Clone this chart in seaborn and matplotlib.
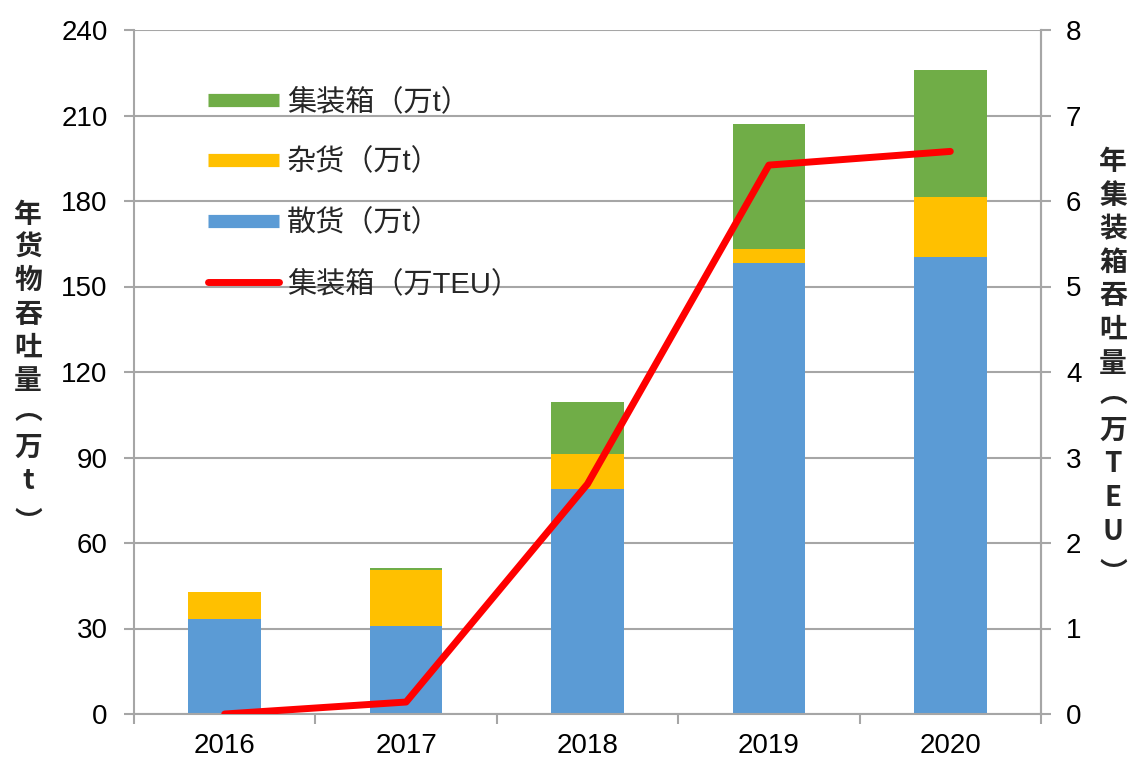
import numpy as np
import pandas as pd
import matplotlib
matplotlib.use("Agg")
import matplotlib.pyplot as plt
from matplotlib.lines import Line2D
from matplotlib.ticker import FixedLocator, MultipleLocator
import seaborn as sns

years = ["2016", "2017", "2018", "2019", "2020"]
bulk = [33.2, 31.0, 78.8, 158.1, 160.5]       # 散货（万t）
general = [9.7, 19.5, 12.4, 5.0, 21.0]        # 杂货（万t）
container_t = [0.0, 0.6, 18.4, 43.9, 44.5]    # 集装箱（万t）
container_teu = [0.0, 0.14, 2.69, 6.42, 6.58] # 集装箱（万TEU）

c_blue, c_yellow, c_green, c_red = "#5B9BD5", "#FFC000", "#70AD47", "#FF0000"
grid_c = "#A6A6A6"

sns.set_theme(style="white")
plt.rcParams["font.family"] = ["Liberation Sans", "Noto Sans CJK SC"]

df = pd.DataFrame({"year": years, "bulk": bulk, "general": general, "cont": container_t})
df["s1"] = df["bulk"]
df["s2"] = df["bulk"] + df["general"]
df["s3"] = df["s2"] + df["cont"]

fig = plt.figure(figsize=(11.31, 7.61), dpi=100)
ax = fig.add_axes([134/1131, 1-714/761, (1041-134)/1131, (714-30)/761])

bar_kw = dict(width=0.4, ax=ax, saturation=1, zorder=2, linewidth=0, edgecolor="none")
sns.barplot(data=df, x="year", y="s3", color=c_green, **bar_kw)
sns.barplot(data=df, x="year", y="s2", color=c_yellow, **bar_kw)
sns.barplot(data=df, x="year", y="s1", color=c_blue, **bar_kw)

ax.set_ylim(0, 240)
ax.set_xlim(-0.5, 4.5)
ax.yaxis.set_major_locator(MultipleLocator(30))
ax.grid(axis="y", color=grid_c, lw=1.5, zorder=0)
ax.set_axisbelow(True)
ax.set_xlabel("")
ax.set_ylabel("")
ax.spines["top"].set_visible(False)
for s in ["left", "bottom", "right"]:
    ax.spines[s].set_color(grid_c)
    ax.spines[s].set_linewidth(1.5)
ax.tick_params(axis="y", which="major", direction="out", length=7, width=1.5, color=grid_c,
               labelsize=20, labelcolor="black", pad=12, left=True)
ax.tick_params(axis="x", which="major", length=0, labelsize=20, labelcolor="black", pad=14)
ax.xaxis.set_minor_locator(FixedLocator([-0.5, 0.5, 1.5, 2.5, 3.5, 4.5]))
ax.tick_params(axis="x", which="minor", direction="out", length=7, width=1.5, color=grid_c, bottom=True)

ax2 = ax.twinx()
sns.lineplot(x=np.arange(len(years)), y=container_teu, ax=ax2, color=c_red, lw=5,
             solid_capstyle="round", solid_joinstyle="round", zorder=5)
ax2.set_ylim(0, 8)
ax2.set_xlim(-0.5, 4.5)
ax2.yaxis.set_major_locator(MultipleLocator(1))
for s in ["top", "left", "bottom"]:
    ax2.spines[s].set_visible(False)
ax2.spines["right"].set_color(grid_c)
ax2.spines["right"].set_linewidth(1.5)
ax2.tick_params(axis="y", direction="out", length=7, width=1.5, color=grid_c,
                labelsize=20, labelcolor="black", pad=11, right=True)
ax2.grid(False)

handles = [
    Line2D([], [], color=c_green, lw=9.5, solid_capstyle="butt"),
    Line2D([], [], color=c_yellow, lw=9.5, solid_capstyle="butt"),
    Line2D([], [], color=c_blue, lw=9.5, solid_capstyle="butt"),
    Line2D([], [], color=c_red, lw=5, solid_capstyle="round"),
]
labels = ["集装箱（万t）", "杂货（万t）", "散货（万t）", "集装箱（万TEU）"]
ax2.legend(handles, labels, loc="upper left", bbox_to_anchor=(74/907, 1-58/684), frameon=False,
           fontsize=21, handlelength=2.45, handletextpad=0.25, labelspacing=1.12,
           borderpad=0, borderaxespad=0)


def vertical_label(text, x, y0, step):
    for i, ch in enumerate(text):
        y = y0 + i * step
        if ch == "︵":
            y -= 3
        elif ch == "︶":
            y += 9
        fig.text(x/1131, 1-y/761, ch, ha="center", va="center", fontsize=20, fontweight="bold",
                 family=["Noto Sans CJK SC", "Liberation Sans"])


vertical_label("年货物吞吐量︵万t︶", 28, 215, 33.2)
vertical_label("年集装箱吞吐量︵万TEU︶", 1113, 162, 33.6)

fig.savefig("out.png", dpi=100)
